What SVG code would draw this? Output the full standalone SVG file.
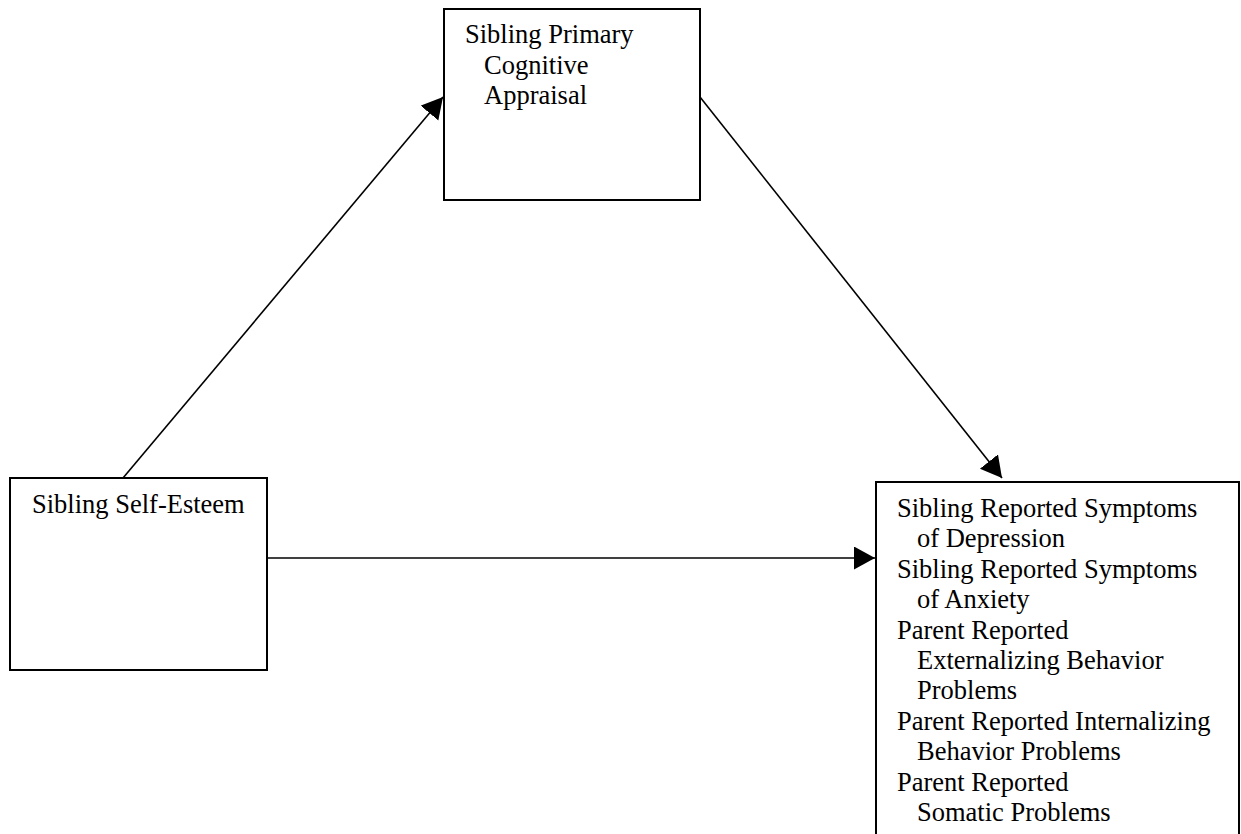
<svg xmlns="http://www.w3.org/2000/svg" width="1241" height="834" viewBox="0 0 1241 834">
<style>
.box{fill:#fff;stroke:#000;stroke-width:2}
.t{font-family:"Liberation Serif","Times New Roman",serif;font-size:26.5px;fill:#000}
.c{stroke:#000;stroke-width:1.6;fill:none}
</style>
<defs>
<marker id="ah" markerUnits="userSpaceOnUse" markerWidth="22" markerHeight="24" refX="21" refY="11.5" orient="auto">
<polygon points="0,0 21,11.5 0,23" fill="#000"/>
</marker>
</defs>
<rect width="1241" height="834" fill="#fff"/>
<g id="connectors">
<line class="c" x1="123" y1="478" x2="443" y2="97" marker-end="url(#ah)"/>
<line class="c" x1="700" y1="97" x2="1002" y2="478" marker-end="url(#ah)"/>
<line class="c" x1="267" y1="558" x2="875" y2="558" marker-end="url(#ah)"/>
</g>
<g id="node-appraisal">
<rect class="box" x="444" y="9" width="256" height="191"/>
<text class="t" x="465" y="43">Sibling Primary</text>
<text class="t" x="484" y="74">Cognitive</text>
<text class="t" x="484" y="104">Appraisal</text>
</g>
<g id="node-selfesteem">
<rect class="box" x="10" y="478" width="257" height="192"/>
<text class="t" x="32" y="513">Sibling Self-Esteem</text>
</g>
<g id="node-outcomes">
<rect class="box" x="876" y="482" width="363" height="360"/>
<text class="t">
<tspan x="897" y="517">Sibling Reported Symptoms</tspan>
<tspan x="917" y="547.4">of Depression</tspan>
<tspan x="897" y="577.8">Sibling Reported Symptoms</tspan>
<tspan x="917" y="608.2">of Anxiety</tspan>
<tspan x="897" y="638.6">Parent Reported</tspan>
<tspan x="917" y="669">Externalizing Behavior</tspan>
<tspan x="917" y="699.4">Problems</tspan>
<tspan x="897" y="729.8">Parent Reported Internalizing</tspan>
<tspan x="917" y="760.2">Behavior Problems</tspan>
<tspan x="897" y="790.6">Parent Reported</tspan>
<tspan x="917" y="821">Somatic Problems</tspan>
</text>
</g>
</svg>
